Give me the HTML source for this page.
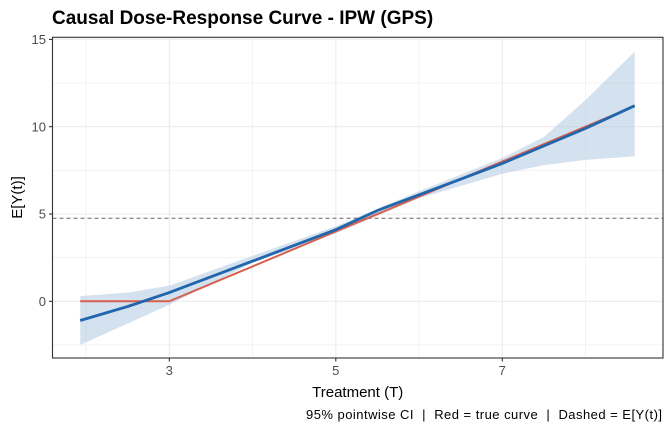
<!DOCTYPE html>
<html><head><style>body{margin:0;background:#fff}svg{display:block;font-family:"Liberation Sans",Arial,sans-serif}text{white-space:pre}</style></head>
<body>
<svg width="672" height="432" viewBox="0 0 672 432">
<rect width="672" height="432" fill="#fff"/>
<g stroke="#ebebeb" stroke-width="0.6">
<line x1="52.5" x2="663" y1="344.9" y2="344.9"/><line x1="52.5" x2="663" y1="257.7" y2="257.7"/><line x1="52.5" x2="663" y1="170.4" y2="170.4"/><line x1="52.5" x2="663" y1="83.1" y2="83.1"/>
<line x1="86" x2="86" y1="37" y2="358"/><line x1="252.6" x2="252.6" y1="37" y2="358"/><line x1="419.1" x2="419.1" y1="37" y2="358"/><line x1="585.6" x2="585.6" y1="37" y2="358"/>
</g>
<g stroke="#ebebeb" stroke-width="1.1">
<line x1="52.5" x2="663" y1="301.3" y2="301.3"/><line x1="52.5" x2="663" y1="214" y2="214"/><line x1="52.5" x2="663" y1="126.7" y2="126.7"/><line x1="52.5" x2="663" y1="39.4" y2="39.4"/>
<line x1="169.3" x2="169.3" y1="37" y2="358"/><line x1="335.8" x2="335.8" y1="37" y2="358"/><line x1="502.3" x2="502.3" y1="37" y2="358"/>
</g>
<polygon fill="#b0c8e0" fill-opacity="0.55" points="80.2,296.1 127.7,292.6 169.3,285.6 252.6,255.9 335.8,226.2 419.1,191.3 502.3,158 543.9,137 585.6,100 634.7,51.6 634.7,156.4 585.6,159.9 543.9,165.1 502.3,173.8 419.1,198.3 335.8,233.2 252.6,262.9 169.3,304.8 80.2,344.9"/>
<line x1="52.5" x2="663" y1="218.3" y2="218.3" stroke="#666" stroke-width="1" stroke-dasharray="4,3"/>
<polyline fill="none" stroke="#d6604d" stroke-width="2" points="80.2,301.3 169.3,301.3 252.6,266.4 335.8,231.5 419.1,196.6 502.3,161.6 634.7,106"/>
<polyline fill="none" stroke="#2166ac" stroke-width="2.8" points="80.2,320.5 127.7,306.5 169.3,292.6 252.6,261.1 335.8,229.7 377.5,210.5 419.1,194.8 502.3,163.4 585.6,128.4 634.7,105.7"/>
<rect x="52.5" y="37.3" width="610.5" height="320.7" fill="none" stroke="#333" stroke-width="1.1"/>
<g stroke="#333" stroke-width="1.1">
<line x1="49" x2="52.5" y1="301.3" y2="301.3"/><line x1="49" x2="52.5" y1="214" y2="214"/><line x1="49" x2="52.5" y1="126.7" y2="126.7"/><line x1="49" x2="52.5" y1="39.4" y2="39.4"/>
<line x1="169.3" x2="169.3" y1="358" y2="361.5"/><line x1="335.8" x2="335.8" y1="358" y2="361.5"/><line x1="502.3" x2="502.3" y1="358" y2="361.5"/>
</g>
<g fill="#4d4d4d" font-size="13" text-anchor="end">
<text x="46" y="306">0</text><text x="46" y="218.7">5</text><text x="46" y="131.4">10</text><text x="46" y="44.1">15</text>
</g>
<g fill="#4d4d4d" font-size="13" text-anchor="middle">
<text x="169.3" y="375">3</text><text x="335.8" y="375">5</text><text x="502.3" y="375">7</text>
</g>
<text x="357.7" y="397" font-size="15" text-anchor="middle" fill="#000">Treatment (T)</text>
<text transform="translate(22,197.5) rotate(-90)" font-size="15" text-anchor="middle" fill="#000">E[Y(t)]</text>
<text x="52" y="24" font-size="19" font-weight="bold" fill="#000">Causal Dose-Response Curve - IPW (GPS)</text>
<text x="306" y="419" font-size="13" fill="#000" textLength="356" lengthAdjust="spacing" xml:space="preserve">95% pointwise CI  |  Red = true curve  |  Dashed = E[Y(t)]</text>
</svg>
</body></html>
